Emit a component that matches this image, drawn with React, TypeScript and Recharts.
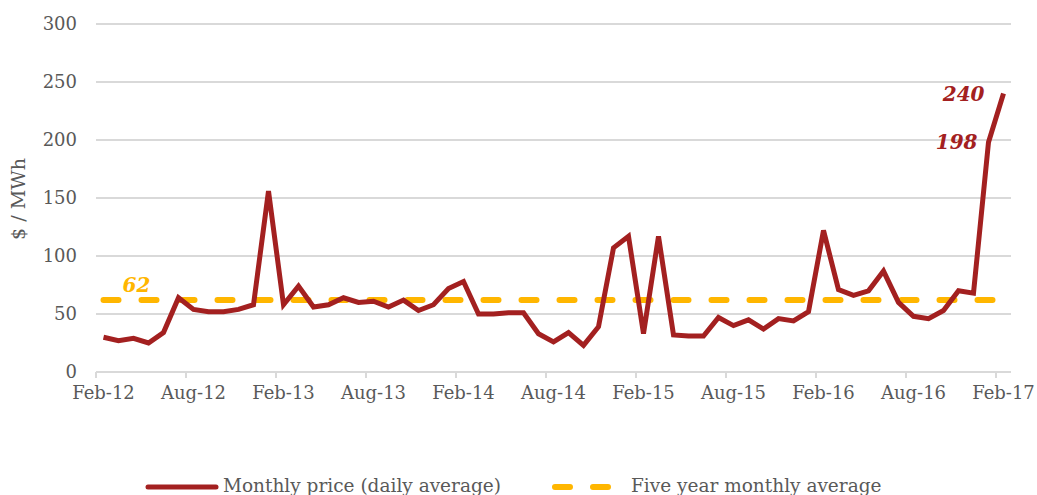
import { LineChart, Line, XAxis, YAxis, CartesianGrid, Legend, LabelList } from "recharts";

const months = [
  "Feb-12", "Mar-12", "Apr-12", "May-12", "Jun-12", "Jul-12", "Aug-12", "Sep-12", "Oct-12", "Nov-12", "Dec-12", "Jan-13",
  "Feb-13", "Mar-13", "Apr-13", "May-13", "Jun-13", "Jul-13", "Aug-13", "Sep-13", "Oct-13", "Nov-13", "Dec-13", "Jan-14",
  "Feb-14", "Mar-14", "Apr-14", "May-14", "Jun-14", "Jul-14", "Aug-14", "Sep-14", "Oct-14", "Nov-14", "Dec-14", "Jan-15",
  "Feb-15", "Mar-15", "Apr-15", "May-15", "Jun-15", "Jul-15", "Aug-15", "Sep-15", "Oct-15", "Nov-15", "Dec-15", "Jan-16",
  "Feb-16", "Mar-16", "Apr-16", "May-16", "Jun-16", "Jul-16", "Aug-16", "Sep-16", "Oct-16", "Nov-16", "Dec-16", "Jan-17",
  "Feb-17",
];

const monthlyPrice = [
  30, 27, 29, 25, 34, 64, 54, 52, 52, 54, 58, 156,
  58, 74, 56, 58, 64, 60, 61, 56, 62, 53, 58, 72,
  78, 50, 50, 51, 51, 33, 26, 34, 23, 39, 107, 117,
  33, 117, 32, 31, 31, 47, 40, 45, 37, 46, 44, 52,
  122, 71, 66, 70, 87, 60, 48, 46, 53, 70, 68, 198,
  240,
];

const fiveYearAvg = 62;

const yTicks = [0, 50, 100, 150, 200, 250, 300];

const data = months.map((m, i) => ({ month: m, price: monthlyPrice[i], avg: fiveYearAvg }));

const RED = "#A32020";
const GOLD = "#FFB600";
const GREY = "#595959";
const FONT = "'DejaVu Serif', serif";

const XTick = (props: any) => {
  const { x, y, payload } = props;
  return (
    <g>
      <line x1={x - 7.5} x2={x - 7.5} y1={y} y2={y + 6} stroke="#D9D9D9" strokeWidth={2} />
      <text x={x} y={y + 27} textAnchor="middle" fill={GREY} fontSize={18} fontFamily={FONT}>
        {payload.value}
      </text>
    </g>
  );
};

const YLabel = () => (
  <text
    x={25}
    y={199}
    transform="rotate(-90 25 199)"
    textAnchor="middle"
    fill={GREY}
    fontSize={19}
    fontFamily={FONT}
  >
    $ / MWh
  </text>
);

const priceLabel = (props: any) => {
  const { x, y, index, value } = props;
  if (index === 59) {
    return (
      <text x={x - 11} y={y + 7} textAnchor="end" fill={RED} fontSize={20} fontWeight="bold" fontStyle="italic" fontFamily={FONT}>
        {value}
      </text>
    );
  }
  if (index === 60) {
    return (
      <text x={x - 19} y={y + 7} textAnchor="end" fill={RED} fontSize={20} fontWeight="bold" fontStyle="italic" fontFamily={FONT}>
        {value}
      </text>
    );
  }
  return null;
};

const avgLabel = (props: any) => {
  const { x, y, index, value } = props;
  if (index !== 2) return null;
  return (
    <text x={x + 3} y={y - 8} textAnchor="middle" fill={GOLD} fontSize={20} fontWeight="bold" fontStyle="italic" fontFamily={FONT}>
      {value}
    </text>
  );
};

const renderLegend = () => (
  <div style={{ position: "relative", height: 26, fontFamily: FONT, fontSize: 18.5, color: GREY }}>
    <svg width={80} height={10} style={{ position: "absolute", left: 145, top: 13 }}>
      <line x1={3} x2={71} y1={5} y2={5} stroke={RED} strokeWidth={5} strokeLinecap="round" />
    </svg>
    <span style={{ position: "absolute", left: 223, top: 6, whiteSpace: "nowrap" }}>Monthly price (daily average)</span>
    <svg width={80} height={10} style={{ position: "absolute", left: 551, top: 13 }}>
      <line x1={4} x2={66} y1={5} y2={5} stroke={GOLD} strokeWidth={6} strokeLinecap="round" strokeDasharray="15 23" />
    </svg>
    <span style={{ position: "absolute", left: 631, top: 6, whiteSpace: "nowrap" }}>Five year monthly average</span>
  </div>
);

export default function App() {
  return (
    <div style={{ position: "absolute", left: 0, top: 0, background: "#fff" }}>
      <LineChart width={1037} height={495} data={data} margin={{ top: 24, right: 26, bottom: 0, left: 0 }}>
        <CartesianGrid vertical={false} stroke="#D9D9D9" strokeWidth={2} />
        <XAxis
          dataKey="month"
          scale="band"
          interval={5}
          height={97}
          tickSize={0}
          tickMargin={0}
          tickLine={false}
          axisLine={{ stroke: "#D9D9D9", strokeWidth: 2 }}
          tick={<XTick />}
        />
        <YAxis
          domain={[0, 300]}
          ticks={yTicks}
          width={96}
          axisLine={false}
          tickLine={false}
          tickSize={0}
          tickMargin={19}
          tick={{ fill: GREY, fontSize: 18, fontFamily: FONT }}
          label={<YLabel />}
        />
        <Legend verticalAlign="bottom" height={26} content={renderLegend} />
        <Line
          dataKey="avg"
          name="Five year monthly average"
          stroke={GOLD}
          strokeWidth={6}
          strokeDasharray="15 23"
          strokeLinecap="round"
          dot={false}
          isAnimationActive={false}
        >
          <LabelList dataKey="avg" content={avgLabel} />
        </Line>
        <Line
          dataKey="price"
          name="Monthly price (daily average)"
          stroke={RED}
          strokeWidth={5}
          dot={false}
          isAnimationActive={false}
        >
          <LabelList dataKey="price" content={priceLabel} />
        </Line>
      </LineChart>
    </div>
  );
}
